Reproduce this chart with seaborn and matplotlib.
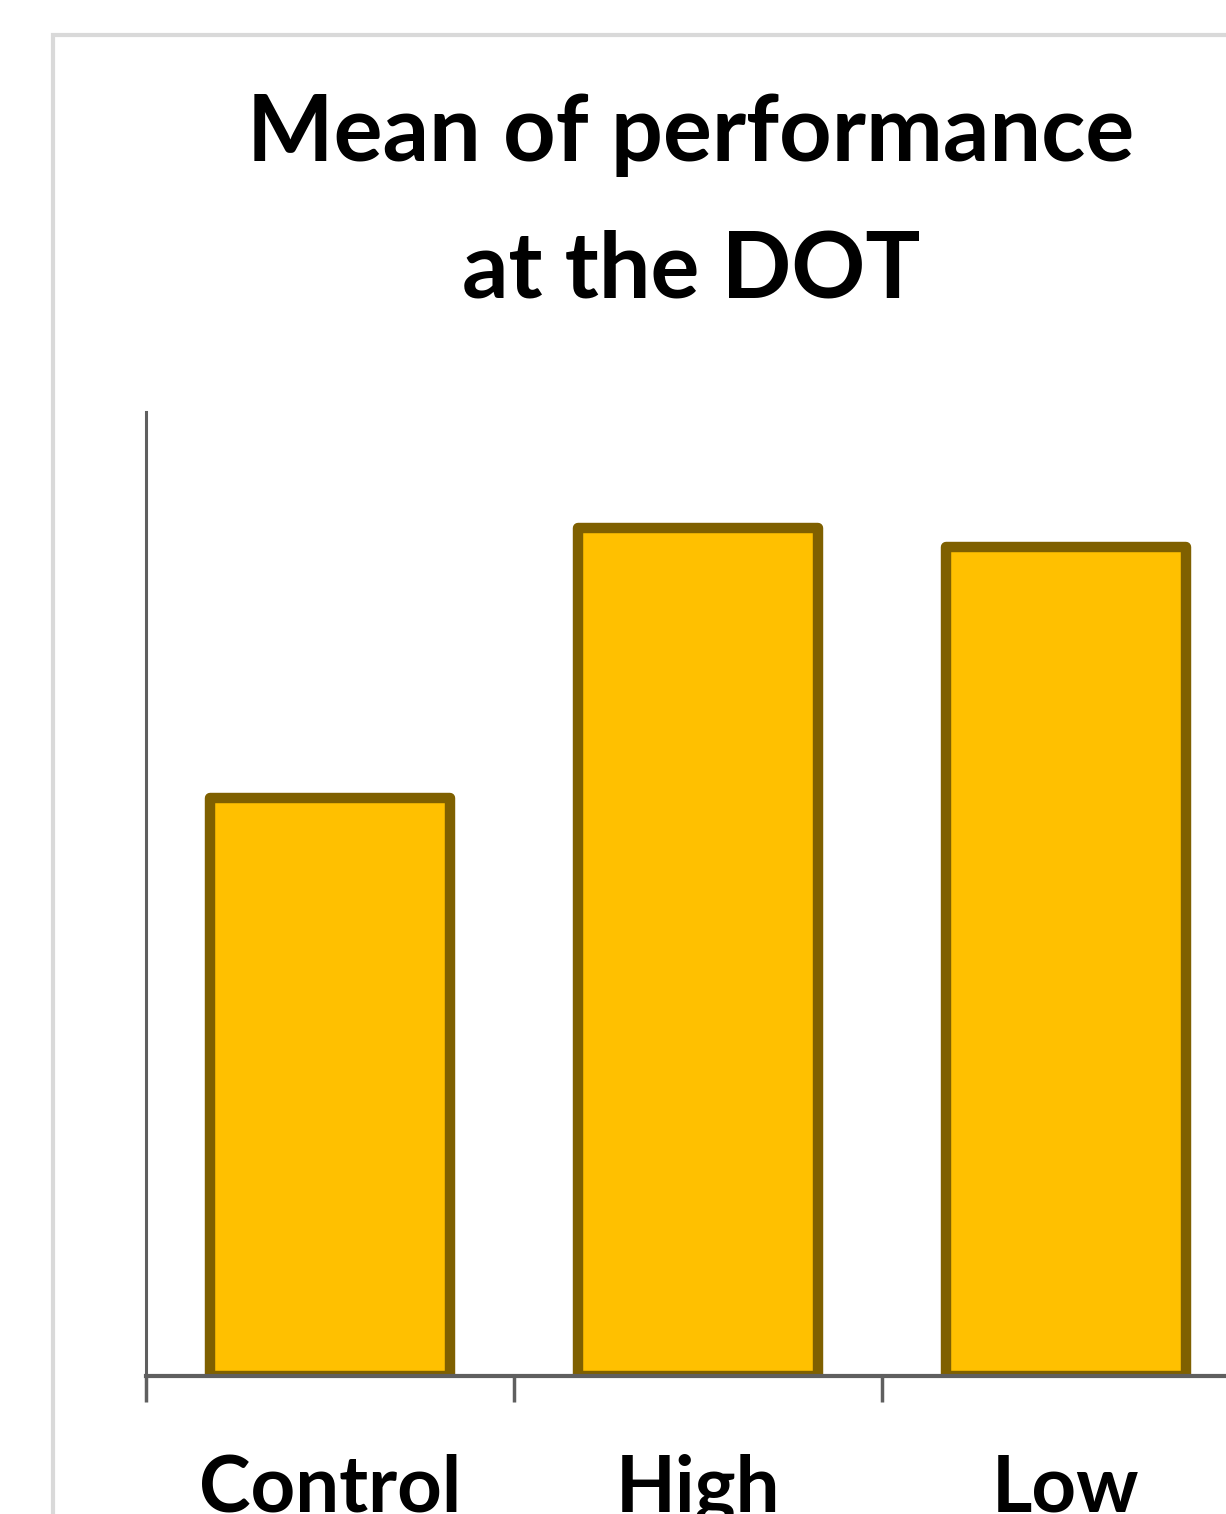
import matplotlib
matplotlib.use("Agg")
import matplotlib.pyplot as plt
import matplotlib.patches as mpatches
import seaborn as sns
import pandas as pd

groups = ["Control", "High", "Low"]
means = [0.60, 0.88, 0.86]
title_lines = ["Mean of performance", "at the DOT"]

sns.set_style("white")
plt.rcParams['font.family'] = ['Lato', 'DejaVu Sans']
plt.rcParams['text.color'] = 'black'
plt.rcParams['xtick.color'] = 'black'

W, H = 1226, 1514
fig = plt.figure(figsize=(W / 100, H / 100), dpi=100)

# outer chart-area frame (cropped at right/bottom)
fig.patches.append(mpatches.Rectangle((53 / W, 1 - 1600 / H), 1300 / W, (1600 - 35) / H,
                                      transform=fig.transFigure, fill=False,
                                      edgecolor="#D9D9D9", linewidth=3))

# axes: left 146px, baseline 1376px, top 412px, 368px per category
ax = fig.add_axes([146 / W, 1 - 1376 / H, 3 * 368 / W, (1376 - 412) / H])

df = pd.DataFrame({"group": groups, "mean": means})
sns.barplot(data=df, x="group", y="mean", ax=ax, color="#FFC000",
            edgecolor="#7F6000", linewidth=7.5, width=0.65, saturation=1)
for p in ax.patches:
    p.set_joinstyle("round")

ax.set_xlim(-0.5, 2.5)
ax.set_ylim(0, 1)
ax.set_xlabel("")
ax.set_ylabel("")
ax.set_yticks([])

for s in ["top", "right"]:
    ax.spines[s].set_visible(False)
ax.spines["left"].set_color("#5f5f5f")
ax.spines["left"].set_linewidth(2.2)
ax.spines["bottom"].set_color("#5f5f5f")
ax.spines["bottom"].set_linewidth(3)

ax.set_xticks([0, 1, 2])
ax.set_xticklabels(groups, fontsize=56, fontweight="bold", color="black")
ax.tick_params(axis="x", which="major", bottom=False, length=0, pad=56)
ax.set_xticks([-0.5, 0.5, 1.5, 2.5], minor=True)
ax.tick_params(axis="x", which="minor", bottom=True, length=19, width=2.5, color="#5f5f5f")

fig.text(691 / W, 1 - 161 / H, title_lines[0], ha="center", va="baseline",
         fontsize=66, fontweight="bold", color="black")
fig.text(691 / W, 1 - 297 / H, title_lines[1], ha="center", va="baseline",
         fontsize=66, fontweight="bold", color="black")

fig.savefig("out.png", dpi=100)
